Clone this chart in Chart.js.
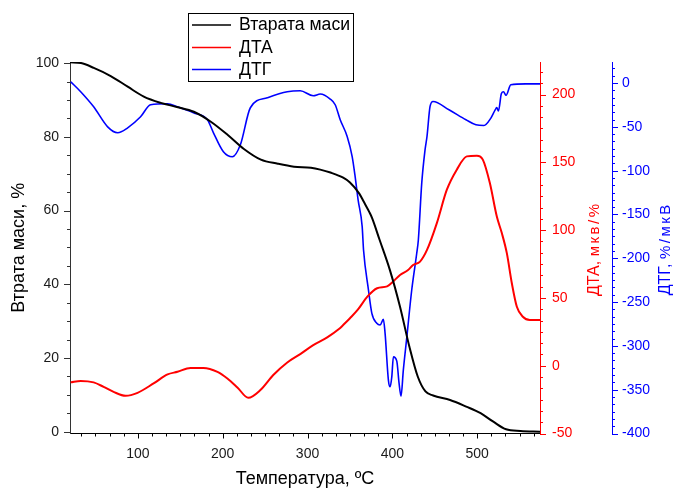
<!DOCTYPE html>
<html>
<head>
<meta charset="utf-8">
<script src="https://cdn.jsdelivr.net/npm/chart.js@4.4.0/dist/chart.umd.min.js"></script>
<style>
html,body{margin:0;padding:0;background:#fff;}
#wrap{width:676px;height:490px;position:relative;}
</style>
</head>
<body>
<div id="wrap"><canvas id="c" width="676" height="490"></canvas></div>
<script>
// ---- data ----
const seriesLabels = ['Втарата маси', 'ДТА', 'ДТГ'];
const axisTitles = { x: 'Температура, ºC', y: 'Втрата маси, %', dta: ['ДТА, ', 'мкв/%'], dtg: ['ДТГ, ', '%/мкВ'] };

const xTicks = [100, 200, 300, 400, 500];
const massTicks = [0, 20, 40, 60, 80, 100];
const dtaTicks = [-50, 0, 50, 100, 150, 200];
const dtgTicks = [-400, -350, -300, -250, -200, -150, -100, -50, 0];

const massT = [20, 33, 48, 68, 88, 107, 127, 146, 166, 186, 206, 225, 245, 265, 284, 304, 315, 327, 342, 350, 361, 366, 373, 376, 385, 397, 409, 420, 430, 439, 448, 468, 487, 504, 519, 534, 551, 574];
const massV = [100.2, 100, 98.7, 96.5, 93.6, 90.9, 89.2, 88.1, 86.8, 84.1, 80.5, 76.7, 73.8, 72.7, 71.9, 71.6, 71.1, 70.3, 68.9, 67.6, 64.6, 62.5, 59.5, 58, 52, 43.9, 33.9, 23.1, 14.9, 10.9, 9.8, 8.6, 6.8, 5.0, 2.7, 0.65, 0.2, 0];

const dtaT = [20.8, 32.6, 47.9, 59.6, 71.4, 85.5, 99.6, 118.5, 135, 146.7, 162, 177.3, 193.8, 205.5, 217.3, 230.2, 244.4, 259.6, 276.1, 291.4, 306.7, 323.2, 337, 342, 350, 359, 370.5, 382, 393.8, 400.8, 409, 418.5, 424.4, 432.6, 440.8, 452.4, 464.2, 475.9, 487.7, 499.5, 506.6, 514.9, 523.1, 529, 534.9, 540.8, 546.7, 553.8, 562, 574];
const dtaV = [-12.3, -11.2, -12.3, -15.6, -19.3, -22.2, -20.0, -13.1, -6.4, -4.5, -1.6, -1.6, -4.5, -9.4, -16.0, -23.7, -18.0, -6.9, 2.4, 8.6, 15.2, 20.9, 27, 30, 35.0, 41.1, 50.9, 57.1, 58.5, 62.0, 66.9, 70.6, 74.3, 76.8, 85.4, 105.2, 129.8, 144.6, 154.4, 154.9, 152.0, 134.7, 110.0, 97.8, 83.0, 60.8, 43.5, 36.1, 33.7, 33.7];

const dtgT = [20.8, 32.6, 47.9, 64.4, 76.2, 88, 103.2, 115, 135, 146.7, 165.5, 182, 189.1, 200.8, 211.4, 220.8, 232.6, 252.6, 276.1, 291.4, 306.7, 315, 326.7, 332.6, 338.5, 346.7, 352.6, 356.1, 359.6, 364.4, 366, 371.8, 375.8, 381.6, 385.5, 389.4, 391.4, 395.3, 397.3, 399.3, 401.2, 405.2, 407.9, 410.2, 412.9, 416.9, 422.8, 428.7, 430.6, 434.6, 438.5, 440.8, 444.4, 447.9, 466.7, 486.7, 498.5, 507.9, 516.1, 521, 523, 525, 528.5, 531, 534, 539.6, 557, 574];
const dtgV = [1.5, -9.9, -27.1, -50, -56.8, -51.1, -38.5, -24.8, -23.7, -27.1, -33.9, -41.9, -56.8, -78.5, -84.2, -70.5, -28.2, -16.8, -9.9, -8.8, -14.5, -12.6, -18.3, -24.8, -41.9, -61, -83.9, -106.7, -133.4, -163.9, -190.5, -236.2, -262.9, -274.3, -276.2, -269.7, -285.7, -339, -346.7, -335.3, -312.5, -317.4, -342.9, -357.4, -327.7, -291.1, -236.2, -194.3, -179.1, -114.3, -76.2, -61, -26.7, -21, -30.5, -41.9, -47.7, -48.5, -40, -31, -28, -32, -12, -10, -14, -2, -1, -1];

// ---- styling ----
const FONT_FAMILY = '"Liberation Sans", Arial, sans-serif';
const TICK_FONT = { family: FONT_FAMILY, size: 14 };
const TICK_STYLE = {
  x:   { major: 100, sub: 6, len: 5, minLen: 3, color: '#000', w: 1 },
  y:   { major: 20, sub: 4, len: 6, minLen: 3, color: '#333', w: 1 },
  yDTA:{ major: 50, sub: 6, len: 6, minLen: 3, color: '#ff0000', w: 1 },
  yDTG:{ major: 50, sub: 6, len: 6, minLen: 3, color: '#0000ff', w: 1 }
};

function useTicks(arr) {
  return function (scale) { scale.ticks = arr.map(v => ({ value: v })); };
}

const tickPlugin = {
  id: 'tickPlugin',
  afterDraw(chart) {
    const ctx = chart.ctx;
    for (const id in TICK_STYLE) {
      const s = chart.scales[id]; const st = TICK_STYLE[id];
      if (!s) continue;
      const step = st.major / st.sub;
      ctx.save();
      ctx.strokeStyle = st.color; ctx.lineWidth = st.w;
      ctx.beginPath();
      const k0 = Math.ceil(s.min / step - 1e-9), k1 = Math.floor(s.max / step + 1e-9);
      for (let k = k0; k <= k1; k++) {
        const major = Math.abs(k % st.sub) === 0;
        const len = major ? st.len : st.minLen;
        const p = Math.round(s.getPixelForValue(k * step)) + 0.5;
        if (s.isHorizontal()) { ctx.moveTo(p, s.top); ctx.lineTo(p, s.top + len); }
        else if (s.position === 'left') { ctx.moveTo(s.right - len, p); ctx.lineTo(s.right, p); }
        else { ctx.moveTo(s.left, p); ctx.lineTo(s.left + len, p); }
      }
      ctx.stroke();
      ctx.restore();
    }
  }
};

const rightTitles = {
  id: 'rightTitles',
  afterDraw(chart) {
    const ctx = chart.ctx;
    const items = [
      { s: chart.scales.yDTA, parts: axisTitles.dta, color: '#ff0000', dx: 59 },
      { s: chart.scales.yDTG, parts: axisTitles.dtg, color: '#0000ff', dx: 58 }
    ];
    for (const it of items) {
      const cy = (chart.chartArea.top + chart.chartArea.bottom) / 2 + 1;
      const bx = it.s.left + it.dx;
      ctx.save();
      ctx.translate(bx, cy);
      ctx.rotate(-Math.PI / 2);
      ctx.fillStyle = it.color;
      ctx.textBaseline = 'alphabetic';
      ctx.textAlign = 'left';
      ctx.font = '16px ' + FONT_FAMILY;
      const w1 = ctx.measureText(it.parts[0]).width;
      ctx.font = '15px ' + FONT_FAMILY;
      if ('letterSpacing' in ctx) ctx.letterSpacing = '2.5px';
      const w2 = ctx.measureText(it.parts[1]).width;
      const x0 = -(w1 + w2) / 2;
      ctx.font = '16px ' + FONT_FAMILY;
      if ('letterSpacing' in ctx) ctx.letterSpacing = '0px';
      ctx.fillText(it.parts[0], x0, 0);
      ctx.font = '15px ' + FONT_FAMILY;
      if ('letterSpacing' in ctx) ctx.letterSpacing = '2.5px';
      ctx.fillText(it.parts[1], x0 + w1, 0);
      ctx.restore();
    }
  }
};

const boxLegend = {
  id: 'boxLegend',
  afterDraw(chart) {
    const ctx = chart.ctx;
    const bx = 188.5, by = 13.5, bw = 165, bh = 68;
    ctx.save();
    ctx.fillStyle = '#fff';
    ctx.fillRect(bx, by, bw, bh);
    ctx.strokeStyle = '#000'; ctx.lineWidth = 1;
    ctx.strokeRect(bx, by, bw, bh);
    const rows = [25, 47.5, 69.5];
    chart.data.datasets.forEach((ds, i) => {
      ctx.strokeStyle = ds.borderColor; ctx.lineWidth = 1.5;
      ctx.beginPath(); ctx.moveTo(192, rows[i]); ctx.lineTo(231, rows[i]); ctx.stroke();
      ctx.fillStyle = '#000';
      ctx.font = '17.6px ' + FONT_FAMILY;
      ctx.textBaseline = 'middle'; ctx.textAlign = 'left';
      ctx.fillText(ds.label, 239, rows[i] + 0.5);
    });
    ctx.restore();
  }
};

const mk = (T, V) => T.map((t, i) => ({ x: t, y: V[i] }));

new Chart(document.getElementById('c'), {
  type: 'scatter',
  data: {
    datasets: [
      { label: seriesLabels[0], data: mk(massT, massV), yAxisID: 'y', borderColor: '#000000', borderWidth: 2 },
      { label: seriesLabels[1], data: mk(dtaT, dtaV), yAxisID: 'yDTA', borderColor: '#ff0000', borderWidth: 2 },
      { label: seriesLabels[2], data: mk(dtgT, dtgV), yAxisID: 'yDTG', borderColor: '#0000ff', borderWidth: 1.6 }
    ].map(d => Object.assign(d, { showLine: true, pointRadius: 0, pointHoverRadius: 0, cubicInterpolationMode: 'monotone', fill: false }))
  },
  options: {
    responsive: false,
    animation: false,
    devicePixelRatio: 1,
    layout: { padding: { top: 62, left: 0, right: 0, bottom: 0 } },
    plugins: { legend: { display: false }, tooltip: { enabled: false } },
    scales: {
      x: {
        type: 'linear', position: 'bottom', min: 20, max: 574,
        ticks: { padding: 12, color: '#1a1a1a', font: TICK_FONT, maxRotation: 0, autoSkip: false },
        afterBuildTicks: useTicks(xTicks),
        afterFit: s => { s.height = 56.5; },
        grid: { display: false, drawTicks: false },
        border: { display: true, color: '#000', width: 1 },
        title: { display: true, text: axisTitles.x, color: '#000', font: { family: FONT_FAMILY, size: 18 }, padding: { top: 0, bottom: 0 } }
      },
      y: {
        type: 'linear', position: 'left', min: -0.5, max: 100.3,
        ticks: { padding: 11, color: '#1a1a1a', font: TICK_FONT, autoSkip: false },
        afterBuildTicks: useTicks(massTicks),
        afterFit: s => { s.width = 70; },
        grid: { display: false, drawTicks: false },
        border: { display: true, color: '#333', width: 1 },
        title: { display: true, text: axisTitles.y, color: '#000', font: { family: FONT_FAMILY, size: 18 }, padding: { top: 8, bottom: 0 } }
      },
      yDTA: {
        type: 'linear', position: 'right', weight: 0, min: -50, max: 224,
        ticks: { padding: 12, color: '#ff0000', font: TICK_FONT, autoSkip: false },
        afterBuildTicks: useTicks(dtaTicks),
        afterFit: s => { s.width = 72; },
        grid: { display: false, drawTicks: false },
        border: { display: true, color: '#ff0000', width: 1 }
      },
      yDTG: {
        type: 'linear', position: 'right', weight: 1, min: -400, max: 24,
        ticks: { padding: 10, color: '#0000ff', font: TICK_FONT, autoSkip: false },
        afterBuildTicks: useTicks(dtgTicks),
        afterFit: s => { s.width = 64; },
        grid: { display: false, drawTicks: false },
        border: { display: true, color: '#0000ff', width: 1 }
      }
    }
  },
  plugins: [tickPlugin, rightTitles, boxLegend]
});
</script>
</body>
</html>
